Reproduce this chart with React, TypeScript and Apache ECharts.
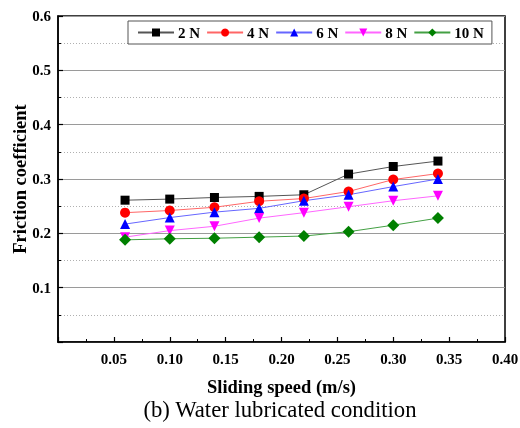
import React, { useEffect, useRef } from "react";
import * as echarts from "echarts";

const speeds = [0.06, 0.10, 0.14, 0.18, 0.22, 0.26, 0.30, 0.34];
const seriesNames = ["2 N", "4 N", "6 N", "8 N", "10 N"];
const friction2N = [0.261, 0.263, 0.266, 0.268, 0.271, 0.309, 0.323, 0.333];
const friction4N = [0.238, 0.242, 0.248, 0.259, 0.264, 0.277, 0.299, 0.310];
const friction6N = [0.217, 0.229, 0.239, 0.246, 0.260, 0.271, 0.286, 0.300];
const friction8N = [0.193, 0.205, 0.213, 0.228, 0.238, 0.249, 0.260, 0.269];
const friction10N = [0.188, 0.190, 0.191, 0.193, 0.195, 0.203, 0.215, 0.228];
const colors = ["#000000", "#ff0000", "#0000ff", "#ff00ff", "#008000"];
const lineColors = ["#555555", "#ff6666", "#6666ff", "#ff66ff", "#44a044"];
const symbols = ["rect", "circle", "triangle", "path://M0,0 L10,0 L5,9 Z", "diamond"];
const symbolSizes = [9, 10, 10, 10, 12];
const caption = "(b) Water lubricated condition";

const FONT = "'Liberation Serif', 'Times New Roman', serif";

export default function App() {
  const ref = useRef<HTMLDivElement>(null);
  useEffect(() => {
    if (!ref.current) return;
    const chart = echarts.init(ref.current, undefined, { renderer: "svg" });
    const all = [friction2N, friction4N, friction6N, friction8N, friction10N];
    chart.setOption({
      animation: false,
      grid: {
        left: 58,
        right: 15,
        top: 16,
        bottom: 86,
        show: true,
        borderColor: "#000",
        borderWidth: 1.5,
        containLabel: false,
        outerBoundsMode: "none",
      },
      legend: {
        left: 128,
        top: 21,
        itemWidth: 36,
        itemHeight: 10,
        itemGap: 6,
        padding: [4, 8, 4, 9],
        borderColor: "#555",
        borderWidth: 1,
        backgroundColor: "#fff",
        textStyle: { fontFamily: FONT, fontWeight: "bold", fontSize: 15, color: "#000", padding: [0, 0, 0, -1] },
        data: seriesNames,
      },
      xAxis: {
        type: "value",
        min: 0,
        max: 0.4,
        interval: 0.05,
        axisLine: { show: true, lineStyle: { color: "#000", width: 1.5 } },
        axisTick: { show: true, inside: true, length: 5, lineStyle: { color: "#000", width: 1.2 } },
        minorTick: { show: true, splitNumber: 2, length: 3, lineStyle: { color: "#000", width: 1 } },
        splitLine: { show: false },
        axisLabel: {
          fontFamily: FONT,
          fontWeight: "bold",
          fontSize: 15,
          color: "#000",
          margin: 9,
          formatter: (v: number) => (v === 0 ? "" : v.toFixed(2)),
        },
        name: "Sliding speed (m/s)",
        nameLocation: "middle",
        nameGap: 35,
        nameMoveOverlap: false,
        nameTextStyle: { fontFamily: FONT, fontWeight: "bold", fontSize: 18.5, color: "#000" },
      },
      yAxis: {
        type: "value",
        min: 0,
        max: 0.6,
        interval: 0.1,
        axisLine: { show: true, lineStyle: { color: "#000", width: 1.5 } },
        axisTick: { show: true, inside: true, length: 5, lineStyle: { color: "#000", width: 1.2 } },
        minorTick: { show: true, splitNumber: 2, length: 3, lineStyle: { color: "#000", width: 1 } },
        splitLine: { show: true, lineStyle: { color: "#9a9a9a", width: 1, type: "solid" } },
        minorSplitLine: { show: true, lineStyle: { color: "#b0b0b0", width: 1, type: [1, 2] } },
        axisLabel: {
          fontFamily: FONT,
          fontWeight: "bold",
          fontSize: 15,
          color: "#000",
          margin: 7,
          formatter: (v: number) => (v === 0 ? "" : v.toFixed(1)),
        },
        name: "Friction coefficient",
        nameLocation: "middle",
        nameGap: 29,
        nameMoveOverlap: false,
        nameTextStyle: { fontFamily: FONT, fontWeight: "bold", fontSize: 18.5, color: "#000" },
      },
      series: seriesNames.map((name, i) => ({
        name,
        type: "line",
        data: speeds.map((x, j) => [x, all[i][j]]),
        symbol: symbols[i],
        symbolSize: symbolSizes[i],
        itemStyle: { color: colors[i] },
        lineStyle: { color: lineColors[i], width: 1 },
      })),
      graphic: [
        {
          type: "text",
          x: 280,
          y: 409,
          style: {
            text: caption,
            fontFamily: FONT,
            fontSize: 22.7,
            fill: "#000",
            align: "center",
            verticalAlign: "middle",
          },
        },
      ],
    });
    return () => chart.dispose();
  }, []);
  return <div ref={ref} style={{ position: "fixed", left: 0, top: 0, width: 520, height: 428 }} />;
}
